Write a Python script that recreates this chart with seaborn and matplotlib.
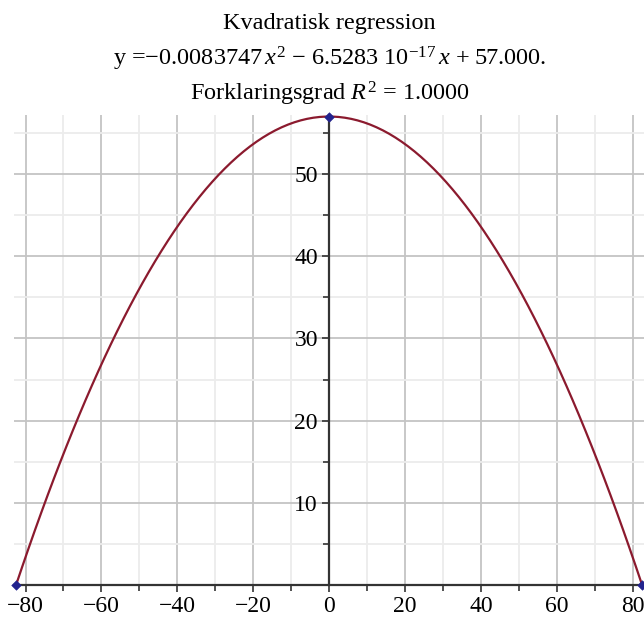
import matplotlib
matplotlib.use('Agg')
import matplotlib.pyplot as plt
from matplotlib.ticker import MultipleLocator, FixedLocator
import seaborn as sns
import pandas as pd
import numpy as np

# data points (regression goes through all three)
x_pts = [-82.5, 0.0, 82.5]
y_pts = [0.0, 57.0, 0.0]

title_lines = [
    'Kvadratisk regression',
    r'y =$-$0.0083747$\,x^2$ $-$ 6.5283 10$^{-17}$$\,x$ + 57.000.',
    r'Forklaringsgrad $R^2$ = 1.0000',
]

df = pd.DataFrame({'x': x_pts, 'y': y_pts})

sns.set_style('white')
plt.rcParams['font.family'] = ['Liberation Serif', 'DejaVu Serif']
plt.rcParams['mathtext.fontset'] = 'custom'
plt.rcParams['mathtext.rm'] = 'Liberation Serif'
plt.rcParams['mathtext.it'] = 'Liberation Serif:italic'
plt.rcParams['text.color'] = 'black'
plt.rcParams['xtick.color'] = 'black'
plt.rcParams['ytick.color'] = 'black'

fig = plt.figure(figsize=(6.44, 6.21), dpi=100)
ax = fig.add_axes([0.022, 0.058, 0.978, 0.757])

# quadratic fit curve drawn by seaborn
sns.regplot(data=df, x='x', y='y', order=2, ci=None, scatter=False,
            line_kws={'color': '#8b1a2e', 'lw': 1.6, 'clip_on': False, 'zorder': 3}, ax=ax)
sns.scatterplot(data=df, x='x', y='y', marker='D', s=24, color='#23238e',
                edgecolor='#23238e', zorder=4, clip_on=False, ax=ax)

ax.set_xlim(-83, 83)
ax.set_ylim(0, 57.2)

ax.xaxis.set_major_locator(MultipleLocator(20))
ax.xaxis.set_minor_locator(MultipleLocator(10))
ax.yaxis.set_major_locator(FixedLocator([10, 20, 30, 40, 50]))
ax.yaxis.set_minor_locator(FixedLocator([5, 15, 25, 35, 45, 55]))

ax.grid(which='major', color='#c4c4c4', lw=1.3)
ax.grid(which='minor', color='#ececec', lw=1.3)
ax.set_axisbelow(True)

for s in ['top', 'right']:
    ax.spines[s].set_visible(False)
ax.spines['left'].set_position(('data', 0))
ax.spines['bottom'].set_position(('data', 0))
ax.spines['left'].set_color('#333333')
ax.spines['bottom'].set_color('#333333')
ax.spines['left'].set_linewidth(1.6)
ax.spines['bottom'].set_linewidth(1.6)

ax.tick_params(axis='both', which='both', bottom=True, left=True)
ax.tick_params(axis='both', which='major', direction='out', length=5, width=1.2,
               color='#333333', labelcolor='black', labelsize=17, pad=3)
ax.tick_params(axis='both', which='minor', direction='out', length=4, width=1.2,
               color='#333333')
ax.set_xticklabels([f'{int(t)}'.replace('-', '\u2212') for t in ax.get_xticks()])
ax.set_xlabel('')
ax.set_ylabel('')

fig.text(0.512, 0.962, title_lines[0], ha='center', va='center', fontsize=17.5)
fig.text(0.512, 0.905, title_lines[1], ha='center', va='center', fontsize=17.5)
fig.text(0.512, 0.848, title_lines[2], ha='center', va='center', fontsize=17.5)

fig.savefig('out.png', dpi=100)
